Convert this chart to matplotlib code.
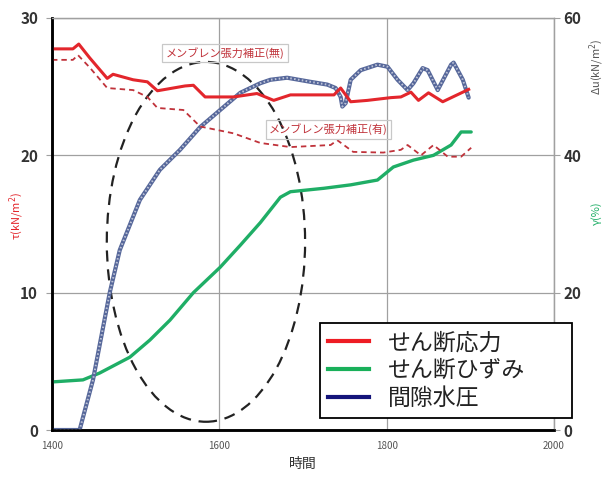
import matplotlib
matplotlib.use("Agg")
import matplotlib.pyplot as plt
from matplotlib.patches import Ellipse
from matplotlib.lines import Line2D

plt.rcParams['font.family'] = ['Noto Sans CJK JP', 'DejaVu Sans']

# shear stress, no membrane correction (kN/m2)
t_tau = [1400, 1425, 1432, 1445, 1466, 1473, 1497, 1514, 1526, 1559, 1569, 1583,
         1617, 1645, 1665, 1685, 1737, 1745, 1757, 1777, 1805, 1817, 1829, 1838,
         1850, 1867, 1879, 1898]
tau_raw = [27.75, 27.75, 28.1, 27.1, 25.6, 25.9, 25.5, 25.35, 24.7, 25.05, 25.1, 24.25,
           24.25, 24.5, 24.0, 24.4, 24.4, 24.9, 23.9, 24.0, 24.2, 24.25, 24.6, 24.0,
           24.55, 23.9, 24.25, 24.8]

# shear stress, with membrane correction (kN/m2)
t_tau_c = [1400, 1425, 1431, 1445, 1466, 1497, 1514, 1526, 1557, 1577, 1617, 1649,
           1685, 1733, 1741, 1760, 1796, 1817, 1825, 1841, 1856, 1873, 1889, 1901]
tau_corr = [26.95, 26.95, 27.3, 26.4, 24.9, 24.75, 24.25, 23.45, 23.3, 22.1, 21.6, 20.9,
            20.6, 20.75, 21.1, 20.25, 20.2, 20.4, 20.75, 20.0, 20.75, 19.9, 19.9, 20.55]

# shear strain (%)
t_gamma = [1400, 1437, 1457, 1493, 1517, 1541, 1569, 1601, 1625, 1649, 1673, 1685,
           1725, 1757, 1789, 1808, 1832, 1856, 1877, 1889, 1901]
gamma = [7.0, 7.3, 8.3, 10.6, 13.1, 16.0, 20.0, 23.7, 26.9, 30.2, 33.9, 34.7,
         35.2, 35.7, 36.4, 38.3, 39.3, 40.0, 41.5, 43.4, 43.4]

# excess pore water pressure (kN/m2)
t_du = [1400, 1421, 1433, 1449, 1469, 1481, 1505, 1529, 1553, 1577, 1601, 1625,
        1649, 1661, 1681, 1709, 1729, 1739, 1745, 1747, 1751, 1757, 1769, 1789,
        1801, 1813, 1825, 1832, 1843, 1849, 1861, 1877, 1880, 1891, 1898]
du = [0.0, 0.0, 0.0, 7.3, 20.0, 26.2, 33.5, 37.9, 40.8, 44.1, 46.6, 49.1,
      50.5, 51.0, 51.3, 50.7, 50.3, 49.8, 48.5, 47.1, 47.6, 51.0, 52.4, 53.2,
      52.9, 51.0, 49.5, 50.5, 52.7, 52.4, 49.5, 53.2, 53.5, 51.0, 48.4]

x_ticks = [1400, 1600, 1800, 2000]
left_ticks = [0, 10, 20, 30]
right_ticks = [0, 20, 40, 60]

RED = '#e3262c'
RED_D = '#c0323a'
GREEN = '#1fae66'
BLUE = '#56679a'
NAVY = '#14147a'

fig = plt.figure(figsize=(6.06, 4.78), dpi=100)
ax = fig.add_axes([0.0858, 0.1004, 0.8284, 0.862])
ax2 = ax.twinx()

ax.set_xlim(1400, 2000)
ax.set_ylim(0, 30)
ax2.set_ylim(0, 60)
ax.set_xticks(x_ticks)
ax.set_xticklabels([str(v) for v in x_ticks], fontsize=7, color='#555555')
ax.set_yticks(left_ticks)
ax.set_yticklabels([str(v) for v in left_ticks], fontsize=11, color='#333333',
                   fontweight='bold')
ax2.set_yticks(right_ticks)
ax2.set_yticklabels([str(v) for v in right_ticks], fontsize=11, color='#333333',
                    fontweight='bold')

ax.grid(True, color='#a0a0a0', linewidth=0.9)
ax.set_axisbelow(True)
for a in (ax, ax2):
    for side in ('top', 'right'):
        a.spines[side].set_color('#a0a0a0')
        a.spines[side].set_linewidth(0.9)
    a.spines['left'].set_color('black')
    a.spines['left'].set_linewidth(1.8)
    a.spines['bottom'].set_color('black')
    a.spines['bottom'].set_linewidth(1.8)
ax.tick_params(axis='y', length=4, color='#a0a0a0', pad=6)
ax.tick_params(axis='x', length=0, pad=8)
ax2.tick_params(axis='y', length=4, color='#a0a0a0', pad=3)

ax.set_xlabel('時間', fontsize=10, color='#333333', labelpad=4)
ax.set_ylabel('τ(kN/m$^2$)', fontsize=8, color=RED, labelpad=4)
ax.yaxis.set_label_coords(-0.052, 0.52)
fig.text(0.985, 0.86, 'Δu(kN/m$^2$)', rotation=90, fontsize=8, color='#555555',
         ha='center', va='center')
fig.text(0.985, 0.555, 'γ(%)', rotation=90, fontsize=8, color=GREEN,
         ha='center', va='center')

# series
ax2.plot(t_gamma, gamma, color=GREEN, linewidth=2.4, solid_capstyle='round')
ax2.plot(t_du, du, color=BLUE, linewidth=3.0, solid_capstyle='round')
ax2.plot(t_du, du, color='#bcc2d6', linewidth=1.4, linestyle=(0, (0.8, 1.2)))
ax2.plot(t_tau, tau_raw, color=RED, linewidth=2.2, transform=ax.transData)
ax2.plot(t_tau_c, tau_corr, color=RED_D, linewidth=1.3, linestyle=(0, (3, 2.2)),
         transform=ax.transData)

# region of pore pressure build-up
ell = Ellipse((1584, 13.7), 237, 26.2, fill=False, edgecolor='#222222',
              linewidth=1.6, linestyle=(0, (5, 3.5)), transform=ax.transData)
ax2.add_patch(ell)

box = dict(boxstyle='square,pad=0.3', facecolor='none', edgecolor='#c8c8c8',
           linewidth=0.9)
ax2.text(0.226, 0.915, 'メンブレン張力補正(無)', transform=ax.transAxes,
         fontsize=8, color=RED_D, va='center', ha='left', bbox=box)
ax2.text(0.432, 0.73, 'メンブレン張力補正(有)', transform=ax.transAxes,
         fontsize=8, color=RED_D, va='center', ha='left', bbox=box)

handles = [Line2D([], [], color=c, linewidth=3) for c in ('#ee1c24', '#19b05a', NAVY)]
leg = fig.legend(handles, ['せん断応力', 'せん断ひずみ', '間隙水圧'],
                 loc='upper left', bbox_to_anchor=(0.528, 0.126, 0.416, 0.198),
                 mode='expand',
                 fontsize=16.5, frameon=True, fancybox=False, edgecolor='black',
                 framealpha=1, handlelength=1.8, handletextpad=0.8,
                 labelspacing=0.22, borderpad=0.35, borderaxespad=0)
leg.get_frame().set_linewidth(1.3)
for txt in leg.get_texts():
    txt.set_color('#222222')

fig.savefig('out.png', dpi=100)
